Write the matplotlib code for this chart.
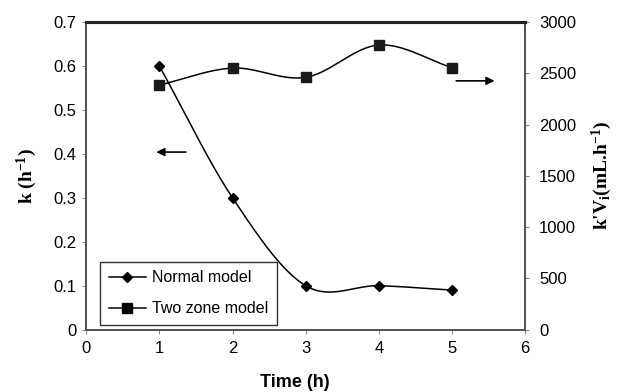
import numpy as np
import matplotlib
matplotlib.use("Agg")
import matplotlib.pyplot as plt
from matplotlib.lines import Line2D

plt.rcParams['font.family'] = ['Liberation Sans', 'DejaVu Sans']
plt.rcParams['mathtext.fontset'] = 'custom'
plt.rcParams['mathtext.rm'] = 'Liberation Serif:bold'
plt.rcParams['mathtext.it'] = 'Liberation Serif:bold'
plt.rcParams['mathtext.bf'] = 'Liberation Serif:bold'

time_h = [1, 2, 3, 4, 5]
normal_k = [0.6, 0.3, 0.1, 0.1, 0.09]
two_zone_kv = [2385, 2550, 2460, 2775, 2555]


def smooth(x, y, n=40):
    # catmull-rom style smoothing like excel's smoothed line
    x = np.asarray(x, float)
    y = np.asarray(y, float)
    px = np.concatenate([[2 * x[0] - x[1]], x, [2 * x[-1] - x[-2]]])
    py = np.concatenate([[2 * y[0] - y[1]], y, [2 * y[-1] - y[-2]]])
    xs, ys = [], []
    for i in range(1, len(px) - 2):
        t = np.linspace(0, 1, n)
        for arr, out in ((px, xs), (py, ys)):
            p0, p1, p2, p3 = arr[i - 1], arr[i], arr[i + 1], arr[i + 2]
            out.extend(0.5 * ((2 * p1) + (-p0 + p2) * t
                              + (2 * p0 - 5 * p1 + 4 * p2 - p3) * t ** 2
                              + (-p0 + 3 * p1 - 3 * p2 + p3) * t ** 3))
    return np.array(xs), np.array(ys)


fig = plt.figure(figsize=(6.2, 3.92), dpi=100)
ax = fig.add_axes([0.139, 0.159, 0.708, 0.785])
ax2 = ax.twinx()

sx, sy = smooth(time_h, normal_k)
ax.plot(sx, sy, color='black', lw=1.1)
ax.plot(time_h, normal_k, 'D', color='black', ms=5, ls='none')

sx2, sy2 = smooth(time_h, two_zone_kv)
ax2.plot(sx2, sy2, color='black', lw=1.1)
ax2.plot(time_h, two_zone_kv, 's', color='#1a1a1a', ms=7, ls='none')

ax.set_xlim(0, 6)
ax.set_ylim(0, 0.7)
ax2.set_ylim(0, 3000)
ax.set_xticks(range(7))
ax.set_yticks(np.arange(0, 0.71, 0.1))
ax.set_yticklabels(['0', '0.1', '0.2', '0.3', '0.4', '0.5', '0.6', '0.7'])
ax2.set_yticks(range(0, 3001, 500))

for a in (ax, ax2):
    a.tick_params(direction='out', length=3, width=0.8, color='#888888',
                  labelsize=12)
    for s in a.spines.values():
        s.set_color('#555555')
        s.set_linewidth(1.4)
    a.spines['top'].set_color('#222222')
    a.spines['top'].set_linewidth(2.2)
ax.tick_params(axis='x', pad=5)
ax.tick_params(axis='y', pad=4)
ax2.tick_params(axis='y', pad=7)

ax.set_xlabel('Time (h)', fontsize=13, fontweight='bold')
ax.xaxis.set_label_coords(0.475, -0.145)
serif = dict(family='Liberation Serif', fontweight='bold', fontsize=14)
ax.set_ylabel(r'k (h$^{-1}$)', labelpad=10, **serif)
ax2.set_ylabel(r"k'V$_{i}$(mL.h$^{-1}$)", labelpad=10, **serif)

# arrows pointing to each axis
ax.annotate('', xy=(0.92, 0.404), xytext=(1.40, 0.404),
            arrowprops=dict(arrowstyle='-|>', color='black', lw=1.2,
                            mutation_scale=12))
ax.annotate('', xy=(5.62, 0.566), xytext=(5.02, 0.566),
            arrowprops=dict(arrowstyle='-|>', color='black', lw=1.2,
                            mutation_scale=12))

handles = [Line2D([], [], color='black', marker='D', ms=5, lw=1.1),
           Line2D([], [], color='black', marker='s', ms=7, lw=1.1)]
leg = ax.legend(handles, ['Normal model', 'Two zone model'],
                loc='lower left', bbox_to_anchor=(0.032, 0.015),
                borderaxespad=0, fontsize=11.5, frameon=True, fancybox=False,
                edgecolor='black', labelspacing=1.0, handlelength=2.3,
                handletextpad=0.4, borderpad=0.55)
leg.get_frame().set_linewidth(1.0)

fig.savefig('out.png', dpi=100)
